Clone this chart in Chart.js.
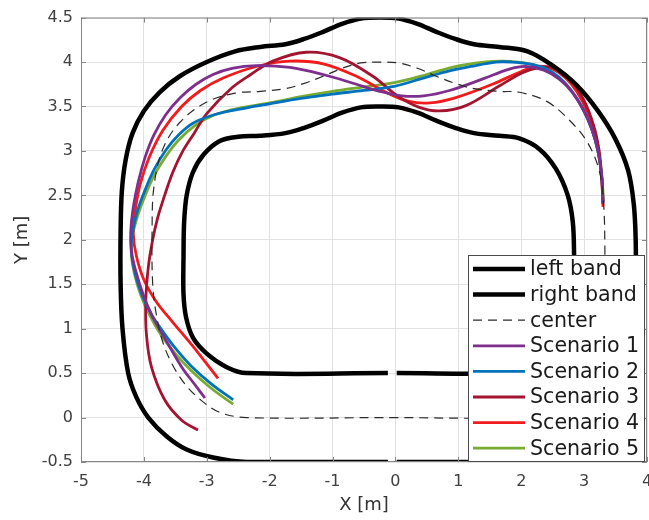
<!DOCTYPE html>
<html>
<head>
<meta charset="utf-8">
<script src="https://cdn.jsdelivr.net/npm/chart.js@4/dist/chart.umd.min.js"></script>
<style>
  body { margin: 0; background: #fff; }
  canvas { display: block; }
</style>
</head>
<body>
<canvas id="track" width="649" height="520"></canvas>
<script>
// axis ticks
const xTicks = [-5, -4, -3, -2, -1, 0, 1, 2, 3, 4];
const yTicks = [-0.5, 0, 0.5, 1, 1.5, 2, 2.5, 3, 3.5, 4, 4.5];

// track borders and centre line, [x, y] in metres
const leftBand = [
    [0.02, 0.5], [1.84, 0.5], [2.16, 0.57], [2.47, 0.72], [2.69, 0.9], [2.8, 1.13], [2.84, 1.39],
    [2.84, 1.84], [2.82, 2.2], [2.74, 2.5], [2.55, 2.8], [2.29, 3.02], [1.97, 3.14], [1.65, 3.17],
    [1.25, 3.2], [0.95, 3.26], [0.65, 3.34], [0.35, 3.43], [0.05, 3.49], [-0.25, 3.5], [-0.55, 3.49],
    [-0.85, 3.43], [-1.15, 3.34], [-1.45, 3.26], [-1.75, 3.2], [-2.15, 3.17], [-2.5, 3.16],
    [-2.8, 3.11], [-3.05, 2.96], [-3.22, 2.76], [-3.32, 2.5], [-3.36, 2.2], [-3.37, 1.8],
    [-3.37, 1.39], [-3.33, 1.13], [-3.22, 0.9], [-3.0, 0.72], [-2.69, 0.57], [-2.37, 0.5], [-0.12, 0.5]
];
const rightBand = [
    [0.02, -0.5], [1.82, -0.5], [2.35, -0.45], [2.77, -0.36], [3.09, -0.21], [3.38, 0], [3.57, 0.23],
    [3.7, 0.5], [3.79, 1.0], [3.82, 1.5], [3.82, 2.0], [3.79, 2.4], [3.7, 2.78], [3.5, 3.13],
    [3.22, 3.45], [2.88, 3.74], [2.5, 3.96], [2.1, 4.12], [1.65, 4.17], [1.25, 4.2], [0.95, 4.26],
    [0.65, 4.34], [0.35, 4.43], [0.05, 4.49], [-0.25, 4.5], [-0.55, 4.49], [-0.85, 4.43],
    [-1.15, 4.34], [-1.45, 4.26], [-1.75, 4.2], [-2.15, 4.17], [-2.55, 4.12], [-3.0, 4.0],
    [-3.43, 3.84], [-3.75, 3.66], [-4.0, 3.45], [-4.18, 3.2], [-4.29, 2.9], [-4.35, 2.55],
    [-4.37, 2.1], [-4.37, 1.5], [-4.34, 1.0], [-4.25, 0.5], [-4.12, 0.23], [-3.93, 0],
    [-3.64, -0.21], [-3.32, -0.36], [-2.9, -0.45], [-2.37, -0.5], [-0.12, -0.5]
];
const center = [
    [-0.1, 0], [1.83, 0], [2.26, 0.06], [2.56, 0.2], [2.81, 0.38], [3.01, 0.6], [3.16, 0.85],
    [3.26, 1.15], [3.32, 1.5], [3.33, 1.9], [3.31, 2.4], [3.24, 2.78], [3.05, 3.1], [2.76, 3.35],
    [2.4, 3.56], [1.97, 3.66], [1.65, 3.67], [1.25, 3.7], [0.95, 3.76], [0.65, 3.84], [0.35, 3.93],
    [0.05, 3.99], [-0.25, 4.0], [-0.55, 3.99], [-0.85, 3.93], [-1.15, 3.84], [-1.45, 3.76],
    [-1.75, 3.7], [-2.15, 3.67], [-2.55, 3.65], [-3.0, 3.55], [-3.43, 3.32], [-3.7, 3.02],
    [-3.84, 2.6], [-3.87, 2.1], [-3.86, 1.5], [-3.8, 1.15], [-3.7, 0.85], [-3.55, 0.6],
    [-3.35, 0.38], [-3.1, 0.2], [-2.8, 0.06], [-2.37, 0], [-0.1, 0]
];

// driven paths, starting on the right straight
const scenario1 = [
    [3.3, 2.42], [3.28, 2.72], [3.22, 3.0], [3.12, 3.25], [2.98, 3.47], [2.8, 3.67], [2.6, 3.81],
    [2.35, 3.91], [2.07, 3.95], [1.81, 3.92], [1.39, 3.81], [0.86, 3.68], [0.45, 3.62], [0.1, 3.62],
    [-0.25, 3.67], [-0.62, 3.75], [-1.15, 3.86], [-1.68, 3.94], [-2.21, 3.96], [-2.6, 3.93],
    [-2.9, 3.86], [-3.17, 3.75], [-3.42, 3.6], [-3.65, 3.41], [-3.84, 3.18], [-3.98, 2.93],
    [-4.09, 2.65], [-4.17, 2.36], [-4.21, 2.08], [-4.2, 1.88], [-4.13, 1.65], [-4.0, 1.36],
    [-3.85, 1.12], [-3.65, 0.87], [-3.4, 0.57], [-3.2, 0.38], [-3.03, 0.22]
];
const scenario2 = [
    [3.3, 2.42], [3.28, 2.72], [3.22, 3.0], [3.12, 3.25], [2.98, 3.48], [2.8, 3.68], [2.6, 3.83],
    [2.38, 3.93], [2.12, 3.98], [1.85, 4.0], [1.6, 4.0], [1.2, 3.95], [0.8, 3.89], [0.4, 3.81],
    [0.0, 3.73], [-0.5, 3.68], [-1.0, 3.64], [-1.5, 3.59], [-2.0, 3.53], [-2.4, 3.48], [-2.87, 3.41],
    [-3.2, 3.32], [-3.45, 3.18], [-3.65, 3.01], [-3.83, 2.8], [-3.97, 2.58], [-4.1, 2.33],
    [-4.18, 2.08], [-4.2, 1.88], [-4.14, 1.62], [-4.03, 1.38], [-3.88, 1.16], [-3.7, 0.97],
    [-3.5, 0.78], [-3.25, 0.58], [-2.93, 0.38], [-2.58, 0.2]
];
const scenario3 = [
    [3.3, 2.4], [3.28, 2.7], [3.24, 3.0], [3.15, 3.29], [2.99, 3.58], [2.75, 3.83], [2.5, 3.94],
    [2.3, 3.94], [2.02, 3.88], [1.65, 3.73], [1.12, 3.51], [0.7, 3.45], [0.38, 3.49], [0.05, 3.61],
    [-0.36, 3.84], [-0.89, 4.05], [-1.42, 4.11], [-1.95, 4.01], [-2.3, 3.86], [-2.6, 3.71],
    [-3.0, 3.42], [-3.2, 3.2], [-3.38, 3.0], [-3.54, 2.76], [-3.67, 2.5], [-3.78, 2.25],
    [-3.86, 2.0], [-3.93, 1.69], [-3.97, 1.31], [-3.96, 0.94], [-3.88, 0.57], [-3.67, 0.2],
    [-3.4, -0.03], [-3.14, -0.14]
];
const scenario4 = [
    [3.3, 2.37], [3.28, 2.68], [3.23, 2.98], [3.14, 3.27], [2.98, 3.55], [2.8, 3.75], [2.6, 3.88],
    [2.42, 3.94], [2.25, 3.95], [2.02, 3.9], [1.54, 3.75], [0.96, 3.6], [0.55, 3.54], [0.2, 3.56],
    [-0.15, 3.66], [-0.62, 3.84], [-1.15, 3.98], [-1.68, 4.01], [-2.21, 3.95], [-2.74, 3.82],
    [-3.1, 3.68], [-3.4, 3.5], [-3.7, 3.23], [-3.92, 2.92], [-4.06, 2.62], [-4.14, 2.32],
    [-4.17, 2.08], [-4.12, 1.82], [-4.0, 1.55], [-3.8, 1.3], [-3.55, 1.08], [-3.3, 0.87],
    [-3.05, 0.65], [-2.82, 0.44]
];
const scenario5 = [
    [3.31, 2.43], [3.28, 2.72], [3.22, 3.0], [3.12, 3.25], [2.98, 3.47], [2.81, 3.66], [2.62, 3.8],
    [2.42, 3.9], [2.2, 3.97], [1.95, 4.0], [1.65, 4.01], [1.3, 3.99], [0.9, 3.94], [0.5, 3.86],
    [0.0, 3.77], [-0.5, 3.72], [-1.0, 3.67], [-1.5, 3.61], [-2.0, 3.54], [-2.5, 3.48], [-2.9, 3.4],
    [-3.2, 3.28], [-3.45, 3.12], [-3.66, 2.93], [-3.84, 2.72], [-3.98, 2.5], [-4.1, 2.27],
    [-4.18, 2.05], [-4.2, 1.85], [-4.15, 1.62], [-4.05, 1.38], [-3.9, 1.14], [-3.72, 0.92],
    [-3.5, 0.72], [-3.25, 0.53], [-2.93, 0.33], [-2.58, 0.15]
];

const FONT = "'DejaVu Sans', sans-serif";

function toPoints(arr) {
    return arr.map(p => ({ x: p[0], y: p[1] }));
}

function line(label, data, color, width, dash) {
    return {
        label: label,
        data: toPoints(data),
        showLine: true,
        borderColor: color,
        backgroundColor: color,
        borderWidth: width,
        borderDash: dash || [],
        pointRadius: 0,
        tension: 0.35,
        fill: false
    };
}

const datasets = [
    line('left band', leftBand, '#000000', 4.5),
    line('right band', rightBand, '#000000', 4.5),
    line('center', center, '#2a2a2a', 1.2, [9, 6]),
    line('Scenario 1', scenario1, '#7E2F8E', 2.8),
    line('Scenario 2', scenario2, '#0072BD', 2.8),
    line('Scenario 3', scenario3, '#A2142F', 2.8),
    line('Scenario 4', scenario4, '#F21B1B', 2.8),
    line('Scenario 5', scenario5, '#77AC30', 2.8)
];

// box, inward ticks and the legend panel in the lower right corner
const axesBox = {
    id: 'axesBox',
    afterDatasetsDraw(chart) {
        const ctx = chart.ctx;
        const a = chart.chartArea;
        const xs = chart.scales.x, ys = chart.scales.y;
        ctx.save();
        ctx.strokeStyle = '#858585';
        ctx.lineWidth = 1;
        ctx.strokeRect(a.left + 0.5, a.top + 0.5, a.right - a.left - 1, a.bottom - a.top - 1);
        ctx.beginPath();
        xTicks.forEach(v => {
            const px = Math.round(xs.getPixelForValue(v)) + 0.5;
            ctx.moveTo(px, a.bottom); ctx.lineTo(px, a.bottom - 5);
            ctx.moveTo(px, a.top); ctx.lineTo(px, a.top + 5);
        });
        yTicks.forEach(v => {
            const py = Math.round(ys.getPixelForValue(v)) + 0.5;
            ctx.moveTo(a.left, py); ctx.lineTo(a.left + 5, py);
            ctx.moveTo(a.right, py); ctx.lineTo(a.right - 5, py);
        });
        ctx.stroke();

        // legend
        const bx = 468, by = 255, bw = 177, bh = 207;
        ctx.fillStyle = '#ffffff';
        ctx.fillRect(bx, by, bw, bh);
        ctx.strokeStyle = '#4a4a4a';
        ctx.strokeRect(bx + 0.5, by + 0.5, bw - 1, bh - 1);
        ctx.font = '20.6px ' + FONT;
        ctx.textBaseline = 'middle';
        chart.data.datasets.forEach((ds, i) => {
            const cy = 269 + i * 25.6;
            ctx.beginPath();
            ctx.strokeStyle = ds.borderColor;
            ctx.lineWidth = ds.borderWidth;
            ctx.setLineDash(ds.borderDash);
            ctx.moveTo(473, cy);
            ctx.lineTo(525, cy);
            ctx.stroke();
            ctx.setLineDash([]);
            ctx.fillStyle = '#1a1a1a';
            ctx.fillText(ds.label, 530, cy + 1);
        });
        ctx.restore();
    }
};

new Chart(document.getElementById('track'), {
    type: 'scatter',
    data: { datasets: datasets },
    options: {
        responsive: false,
        devicePixelRatio: 1,
        animation: false,
        layout: { padding: { top: 14, right: 2, left: 0, bottom: 0 } },
        plugins: {
            legend: { display: false },
            tooltip: { enabled: false }
        },
        scales: {
            x: {
                type: 'linear',
                min: -5,
                max: 4,
                afterFit: s => { s.height = 58; s.paddingLeft = 0; s.paddingRight = 0; },
                afterBuildTicks: s => { s.ticks = xTicks.map(v => ({ value: v })); },
                grid: { color: '#e2e2e2', drawTicks: false },
                border: { display: false },
                ticks: {
                    color: '#404040',
                    padding: 10,
                    font: { family: FONT, size: 16 },
                    callback: v => String(v)
                },
                title: {
                    display: true,
                    text: 'X [m]',
                    color: '#333333',
                    font: { family: FONT, size: 18 },
                    padding: { top: 0, bottom: 4 }
                }
            },
            y: {
                type: 'linear',
                min: -0.5,
                max: 4.5,
                afterFit: s => { s.width = 81; },
                afterBuildTicks: s => { s.ticks = yTicks.map(v => ({ value: v })); },
                grid: { color: '#e2e2e2', drawTicks: false },
                border: { display: false },
                ticks: {
                    color: '#404040',
                    padding: 8,
                    font: { family: FONT, size: 16 },
                    callback: v => String(v)
                },
                title: {
                    display: true,
                    text: 'Y [m]',
                    color: '#333333',
                    font: { family: FONT, size: 18 },
                    padding: { top: 12, bottom: 0 }
                }
            }
        }
    },
    plugins: [axesBox]
});
</script>
</body>
</html>
